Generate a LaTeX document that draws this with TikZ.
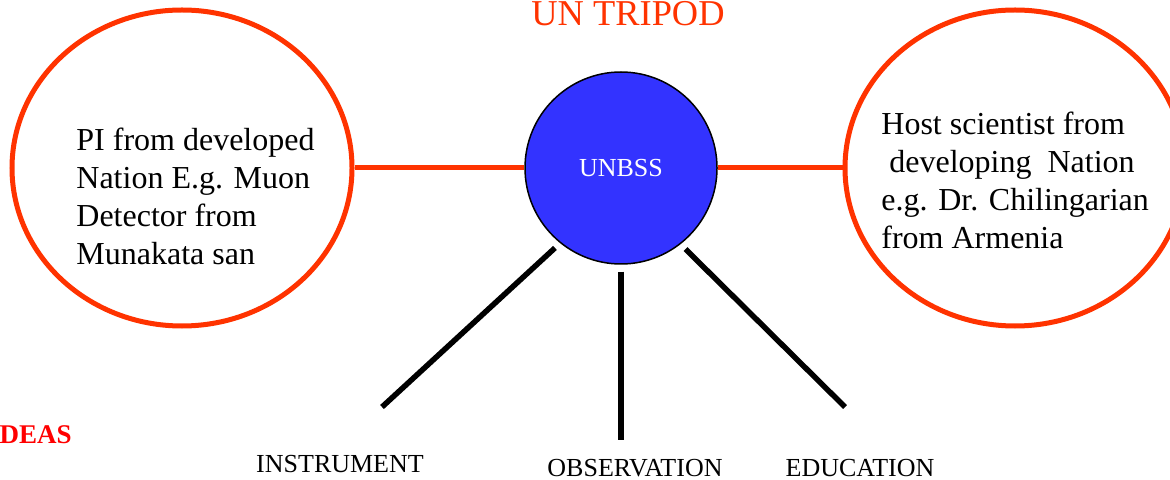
\documentclass[tikz,border=0pt]{standalone}
\usepackage{fontspec}
\setmainfont{Liberation Serif}
\usetikzlibrary{shapes.geometric,positioning}
\definecolor{tripodred}{HTML}{FF3300}
\definecolor{hubblue}{HTML}{3333FF}

\begin{document}
\begin{tikzpicture}[
    x=0.5pt, y=-0.5pt,
    align=left,
    partner/.style={ellipse, minimum width=170pt, minimum height=158pt,
      inner sep=0pt, line width=2.5pt, draw=tripodred},
    hub/.style={circle, minimum size=96pt, inner sep=0pt, fill=hubblue,
      draw=black, line width=0.75pt, text=white,
      font=\fontsize{13}{15}\selectfont},
    desc/.style={inner sep=0pt, anchor=west,
      font=\fontsize{16}{19}\selectfont},
    pillar/.style={inner sep=0pt, anchor=base,
      font=\fontsize{13}{15}\selectfont},
    link/.style={tripodred, line width=2.5pt},
    leg/.style={black, line width=2.75pt, shorten <=3.5pt}
  ]

  \useasboundingbox (0,0) rectangle (1170,480);

  % title and side note

  \node (title) [anchor=base, inner sep=0pt, text=tripodred,
                 font=\fontsize{18.2}{20}\selectfont] at (628,26) {UN TRIPOD};
  \node (ideas) [anchor=base east, inner sep=0pt, text=red,
                 font=\fontsize{13.5}{15}\selectfont\bfseries] at (72,443) {IDEAS};

  % the three partners

  \node (pi)    [partner] at (182,168)  {};
  \node (host)  [partner] at (1015,168) {};
  \node (unbss) [hub]     at (621,168)  {UNBSS};

  \node (pitext)   [desc] at (76,196)  {PI from developed\\
                                         Nation E.g. Muon\\
                                         Detector from\\
                                         Munakata san};
  \node (hosttext) [desc] at (881,180) {Host scientist from\\
                                         \hspace{4pt}developing\ \ Nation\\
                                         e.g. Dr. Chilingarian\\
                                         from Armenia};

  % the legs of the tripod
  \coordinate (instrend) at (382,407);
  \coordinate (obsend)   at (621,440);
  \coordinate (eduend)   at (845,407);

  \node (instr) [pillar] at (340,472) {INSTRUMENT};
  \node (obs)   [pillar] at (635,476) {OBSERVATION};
  \node (edu)   [pillar] at (860,476) {EDUCATION};

  \draw[link] (pi)    -- (unbss);
  \draw[link] (unbss) -- (host);

  \draw[leg] (unbss.231.7) -- (instrend);
  \draw[leg] (unbss.270)   -- (obsend);
  \draw[leg] (unbss.308.4) -- (eduend);

\end{tikzpicture}
\end{document}
